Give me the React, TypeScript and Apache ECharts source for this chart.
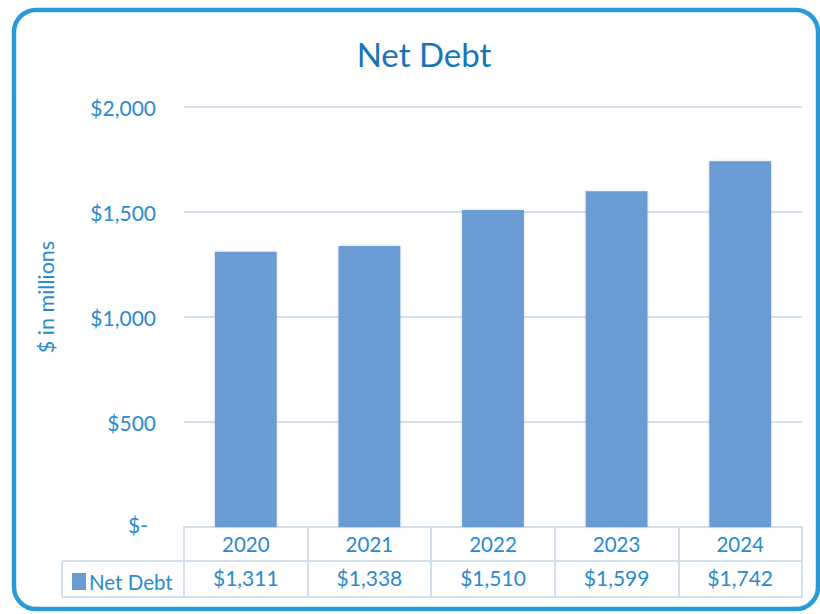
import React, { useEffect, useRef } from "react";
import * as echarts from "echarts";

const years = ["2020", "2021", "2022", "2023", "2024"];
const netDebt = [1311, 1338, 1510, 1599, 1742];
const seriesName = "Net Debt";
const yTicks = { min: 0, max: 2000, interval: 500 };

const blue = "#2a8bcb";
const lineCol = "#d3e1ef";
const fontFamily = "Lato, 'Open Sans', sans-serif";

const money = (v: number) => "$" + v.toLocaleString("en-US");

export default function App() {
  const ref = useRef<HTMLDivElement>(null);
  useEffect(() => {
    if (!ref.current) return;
    const chart = echarts.init(ref.current, undefined, { renderer: "svg" });
    chart.setOption({
      animation: false,
      textStyle: { fontFamily },
      title: {
        text: "Net Debt",
        left: 419,
        textAlign: "center",
        top: 32,
        textStyle: { fontSize: 33, fontWeight: "normal", color: "#1874b6", fontFamily },
      },
      legend: {
        show: true,
        left: 67,
        top: 566,
        icon: "rect",
        itemWidth: 14,
        itemHeight: 17,
        itemGap: 6,
        textStyle: { fontSize: 20.5, color: blue, fontFamily, padding: [0, 0, 0, -2] },
        data: [seriesName],
      },
      grid: { left: 184, right: 18, top: 107, bottom: 87 },
      xAxis: [
        {
          type: "category",
          data: years,
          position: "bottom",
          axisLine: { show: true, lineStyle: { color: lineCol, width: 2 } },
          axisTick: { show: true, interval: 0, length: 70, lineStyle: { color: lineCol, width: 2 } },
          axisLabel: { margin: 6, fontSize: 20.5, color: blue, fontFamily, interval: 0 },
        },
        {
          type: "category",
          data: years,
          position: "bottom",
          offset: 34,
          axisLine: { show: true, lineStyle: { color: lineCol, width: 2 } },
          axisTick: { show: false },
          axisLabel: {
            margin: 6,
            fontSize: 21,
            color: blue,
            fontFamily,
            interval: 0,
            formatter: (_: string, i: number) => money(netDebt[i]),
          },
        },
        {
          type: "category",
          data: years,
          position: "bottom",
          offset: 70,
          axisLine: { show: true, lineStyle: { color: lineCol, width: 2 } },
          axisTick: { show: false },
          axisLabel: { show: false },
        },
      ],
      yAxis: {
        type: "value",
        min: yTicks.min,
        max: yTicks.max,
        interval: yTicks.interval,
        name: "$ in millions",
        nameLocation: "middle",
        nameGap: 127,
        nameTextStyle: { fontSize: 21.5, color: blue, fontFamily, padding: [0, 0, 0, 40] },
        axisLine: { show: false },
        axisTick: { show: false },
        splitLine: { lineStyle: { color: lineCol, width: 2 } },
        axisLabel: {
          margin: 28,
          fontSize: 21,
          color: blue,
          fontFamily,
          formatter: (v: number) => (v === 0 ? "{z|$-}" : money(v)),
          rich: { z: { fontSize: 21, color: blue, fontFamily, padding: [0, 8, 6, 0] } },
        },
      },
      series: [
        {
          name: seriesName,
          type: "bar",
          data: netDebt,
          barWidth: "50%",
          itemStyle: { color: "#6a9bd3", shadowColor: "rgba(0,0,0,0.15)", shadowBlur: 3 },
        },
      ],
      graphic: [
        {
          type: "rect",
          shape: { x: 14, y: 10, width: 804, height: 599, r: 22 },
          style: { fill: "none", stroke: "#2a9ad6", lineWidth: 4.5 },
        },
        { type: "line", shape: { x1: 62, y1: 561, x2: 184, y2: 561 }, style: { stroke: lineCol, lineWidth: 2 } },
        { type: "line", shape: { x1: 62, y1: 597, x2: 184, y2: 597 }, style: { stroke: lineCol, lineWidth: 2 } },
        { type: "line", shape: { x1: 62, y1: 561, x2: 62, y2: 597 }, style: { stroke: lineCol, lineWidth: 2 } },
      ],
    });
    return () => chart.dispose();
  }, []);
  return <div ref={ref} style={{ width: 820, height: 614, position: "absolute", left: 0, top: 0 }} />;
}
